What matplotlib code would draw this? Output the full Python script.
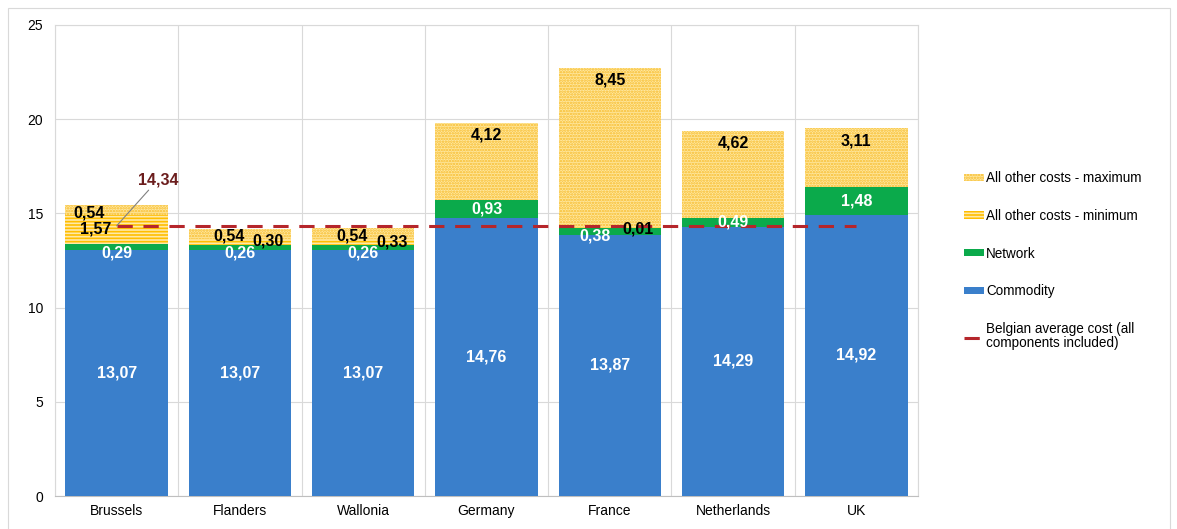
import matplotlib
matplotlib.use("Agg")
import matplotlib.pyplot as plt
from matplotlib.patches import Rectangle
from matplotlib.lines import Line2D
import numpy as np

plt.rcParams['font.family'] = ['Liberation Sans', 'DejaVu Sans']
plt.rcParams['hatch.linewidth'] = 1.2

categories = ['Brussels', 'Flanders', 'Wallonia', 'Germany', 'France', 'Netherlands', 'UK']
commodity = [13.07, 13.07, 13.07, 14.76, 13.87, 14.29, 14.92]
network = [0.29, 0.26, 0.26, 0.93, 0.38, 0.49, 1.48]
other_min = [1.57, 0.30, 0.33, 0.0, 0.01, 0.0, 0.0]
other_max = [0.54, 0.54, 0.54, 4.12, 8.45, 4.62, 3.11]
belgian_avg = 14.34

def fmt(v):
    return f"{v:.2f}".replace('.', ',')

fig = plt.figure(figsize=(11.77, 5.29), dpi=100)
ax = fig.add_axes([55/1177, 1-496/529, (918-55)/1177, (496-25)/529])

x = np.arange(len(categories))
w = 0.83
commodity = np.array(commodity); network = np.array(network)
other_min = np.array(other_min); other_max = np.array(other_max)

c_blue = '#3A7FCB'
c_green = '#0BAA4B'
max_face, max_edge = '#FFE8A0', '#F7BB2A'
min_face, min_edge = '#FFE9A8', '#FFBE00'

ax.bar(x, commodity, w, color=c_blue, zorder=3, label='Commodity')
ax.bar(x, network, w, bottom=commodity, color=c_green, zorder=3, label='Network')
b1 = commodity + network
ax.bar(x, other_min, w, bottom=b1, facecolor=min_face, edgecolor=min_edge,
       hatch='-----', linewidth=0, zorder=3, label='All other costs - minimum')
b2 = b1 + other_min
ax.bar(x, other_max, w, bottom=b2, facecolor=max_face, edgecolor=max_edge,
       hatch='......', linewidth=0, zorder=3, label='All other costs - maximum')
ax.plot([x[0], x[-1]], [belgian_avg, belgian_avg], color='#B5262B', lw=2.2,
        dashes=(5, 3.5), zorder=5)

fs = 11.5
# commodity labels (middle)
for i in range(len(x)):
    ax.text(x[i], commodity[i]/2, fmt(commodity[i]), ha='center', va='center',
            color='white', fontsize=fs, fontweight='bold', zorder=6)

# network labels
net_pos = [(0, 12.9), (1, 12.9), (2, 12.9), (3, None), (3.88, 13.8), (4, None), (4, None)]
for i in range(len(x)):
    px, py = net_pos[i]
    if py is None:
        px, py = x[i], commodity[i] + network[i]/2
    ax.text(px, py, fmt(network[i]), ha='center', va='center',
            color='white', fontsize=fs, fontweight='bold', zorder=6)

# minimum labels
min_pos = {0: (-0.167, 14.17), 1: (1.23, 13.53), 2: (2.23, 13.5), 4: (4.23, 14.17)}
for i, (px, py) in min_pos.items():
    ax.text(px, py, fmt(other_min[i]), ha='center', va='center',
            color='black', fontsize=fs, fontweight='bold', zorder=6)

# maximum labels
max_pos = {0: (-0.224, 15.02), 1: (0.91, 13.8), 2: (1.91, 13.8)}
for i in range(len(x)):
    if i in max_pos:
        px, py = max_pos[i]
    else:
        px, py = x[i], b2[i] + other_max[i] - 0.65
    ax.text(px, py, fmt(other_max[i]), ha='center', va='center',
            color='black', fontsize=fs, fontweight='bold', zorder=6)

ax.annotate(fmt(belgian_avg), xy=(0, belgian_avg), xytext=(0.17, 16.78),
            ha='left', va='center', color='#6B1D1D', fontsize=fs, fontweight='bold',
            arrowprops=dict(arrowstyle='-', color='#808080', lw=0.8, shrinkA=0, shrinkB=0),
            zorder=6)

ax.set_xlim(-0.5, len(x) - 0.5)
ax.set_ylim(0, 25)
ax.set_yticks([0, 5, 10, 15, 20, 25])
ax.set_xticks(x)
ax.set_xticklabels(categories, fontsize=10)
ax.tick_params(axis='y', labelsize=10, length=0, pad=8.5)
ax.tick_params(axis='x', length=0, pad=6)
ax.set_xticks(np.arange(len(x) + 1) - 0.5, minor=True)
ax.tick_params(axis='x', which='minor', length=0)
ax.grid(axis='y', which='major', color='#D9D9D9', lw=0.8, zorder=0)
ax.grid(axis='x', which='minor', color='#D9D9D9', lw=0.8, zorder=0)
for s in ['left', 'right', 'top']:
    ax.spines[s].set_color('#D9D9D9')
    ax.spines[s].set_linewidth(0.8)
ax.spines['bottom'].set_color('#BFBFBF')

handles = [
    Rectangle((0, 0), 1, 1, facecolor=max_face, edgecolor=max_edge, hatch='......', lw=0),
    Rectangle((0, 0), 1, 1, facecolor=min_face, edgecolor=min_edge, hatch='-----', lw=0),
    Rectangle((0, 0), 1, 1, facecolor=c_green, lw=0),
    Rectangle((0, 0), 1, 1, facecolor=c_blue, lw=0),
    Line2D([0], [0], color='#B5262B', lw=2.2, dashes=(5, 3.5)),
]
labels = ['All other costs - maximum', 'All other costs - minimum', 'Network',
          'Commodity', 'Belgian average cost (all\ncomponents included)']
leg = fig.legend(handles, labels, loc='upper left', bbox_to_anchor=(964/1177, 1-171/529),
                 frameon=False, fontsize=9.75, labelspacing=1.76, handlelength=1.5,
                 handleheight=0.45, handletextpad=0.15, borderpad=0, borderaxespad=0)
leg.get_texts()[4].set_linespacing(1.0)

fig.add_artist(Rectangle((8/1177, -0.01), (1170-8)/1177, 1-8/529 + 0.01,
                         transform=fig.transFigure, fill=False,
                         edgecolor='#D9D9D9', lw=0.8))

fig.savefig('out.png', dpi=100)
